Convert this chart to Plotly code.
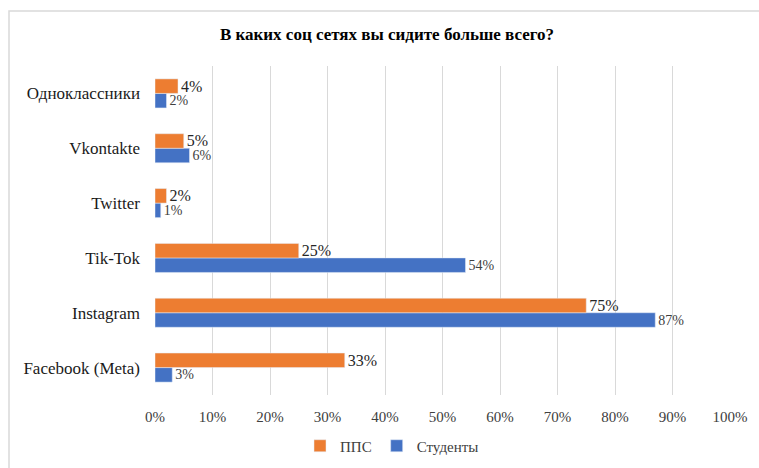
import plotly.graph_objects as go

categories = ["Facebook (Meta)", "Instagram", "Tik-Tok", "Twitter", "Vkontakte", "Одноклассники"]
pps = [0.33, 0.75, 0.25, 0.02, 0.05, 0.04]
students = [0.03, 0.87, 0.54, 0.01, 0.06, 0.02]
pps_labels = ["33%", "75%", "25%", "2%", "5%", "4%"]
students_labels = ["3%", "87%", "54%", "1%", "6%", "2%"]

SERIF = "Liberation Serif"

W, H = 759, 468
L, R, T, B = 155, 29, 66, 73
pw, ph = W - L - R, H - T - B

fig = go.Figure()
fig.add_trace(go.Bar(
    y=categories, x=students, orientation="h", name="Студенты",
    marker=dict(color="#4472C4"), text=students_labels, textposition="outside",
    textfont=dict(family=SERIF, size=14, color="#404040"), constraintext="none",
    cliponaxis=False, legendrank=2,
))
fig.add_trace(go.Bar(
    y=categories, x=pps, orientation="h", name="ППС",
    marker=dict(color="#ED7D31"), text=pps_labels, textposition="outside",
    textfont=dict(family=SERIF, size=16, color="#262626"), constraintext="none",
    cliponaxis=False, legendrank=1,
))

def px_to_paper_x(p):
    return (p - L) / pw

def px_to_paper_y(p):
    return (H - B - p) / ph

fig.update_layout(
    width=W, height=H,
    margin=dict(l=L, r=R, t=T, b=B, autoexpand=False),
    paper_bgcolor="white", plot_bgcolor="white",
    barmode="group", bargap=0.47, bargroupgap=0,
    title=dict(text="<b>В каких соц сетях вы сидите больше всего?</b>",
               x=px_to_paper_x(387), xref="paper", xanchor="center", y=1 - 34 / H, yanchor="middle",
               font=dict(family=SERIF, size=17, color="black")),
    font=dict(family=SERIF, color="#404040"),
    xaxis=dict(range=[0, 1], dtick=0.1, tickformat=".0%", showgrid=True,
               gridcolor="#d9d9d9", gridwidth=1, zeroline=False, showline=False,
               tickfont=dict(family=SERIF, size=15, color="#404040"), ticks="",
               ticklabelstandoff=11, automargin=False),
    yaxis=dict(showgrid=False, zeroline=False, showline=False, ticks="",
               tickfont=dict(family=SERIF, size=17, color="#1a1a1a"),
               ticklabelstandoff=14, automargin=False),
    legend=dict(orientation="h", x=px_to_paper_x(392), xanchor="center",
                y=px_to_paper_y(446), yanchor="middle",
                font=dict(family=SERIF, size=15, color="#404040"),
                itemwidth=30, traceorder="normal"),
    showlegend=True,
    shapes=[dict(type="rect", xref="paper", yref="paper",
                 x0=px_to_paper_x(9), x1=px_to_paper_x(765),
                 y0=px_to_paper_y(475), y1=px_to_paper_y(11),
                 line=dict(color="#d9d9d9", width=1.5), fillcolor="rgba(0,0,0,0)", layer="below")],
)

fig.write_html("out.html", config={"displayModeBar": False},
               post_script="document.body.style.margin='0';")
